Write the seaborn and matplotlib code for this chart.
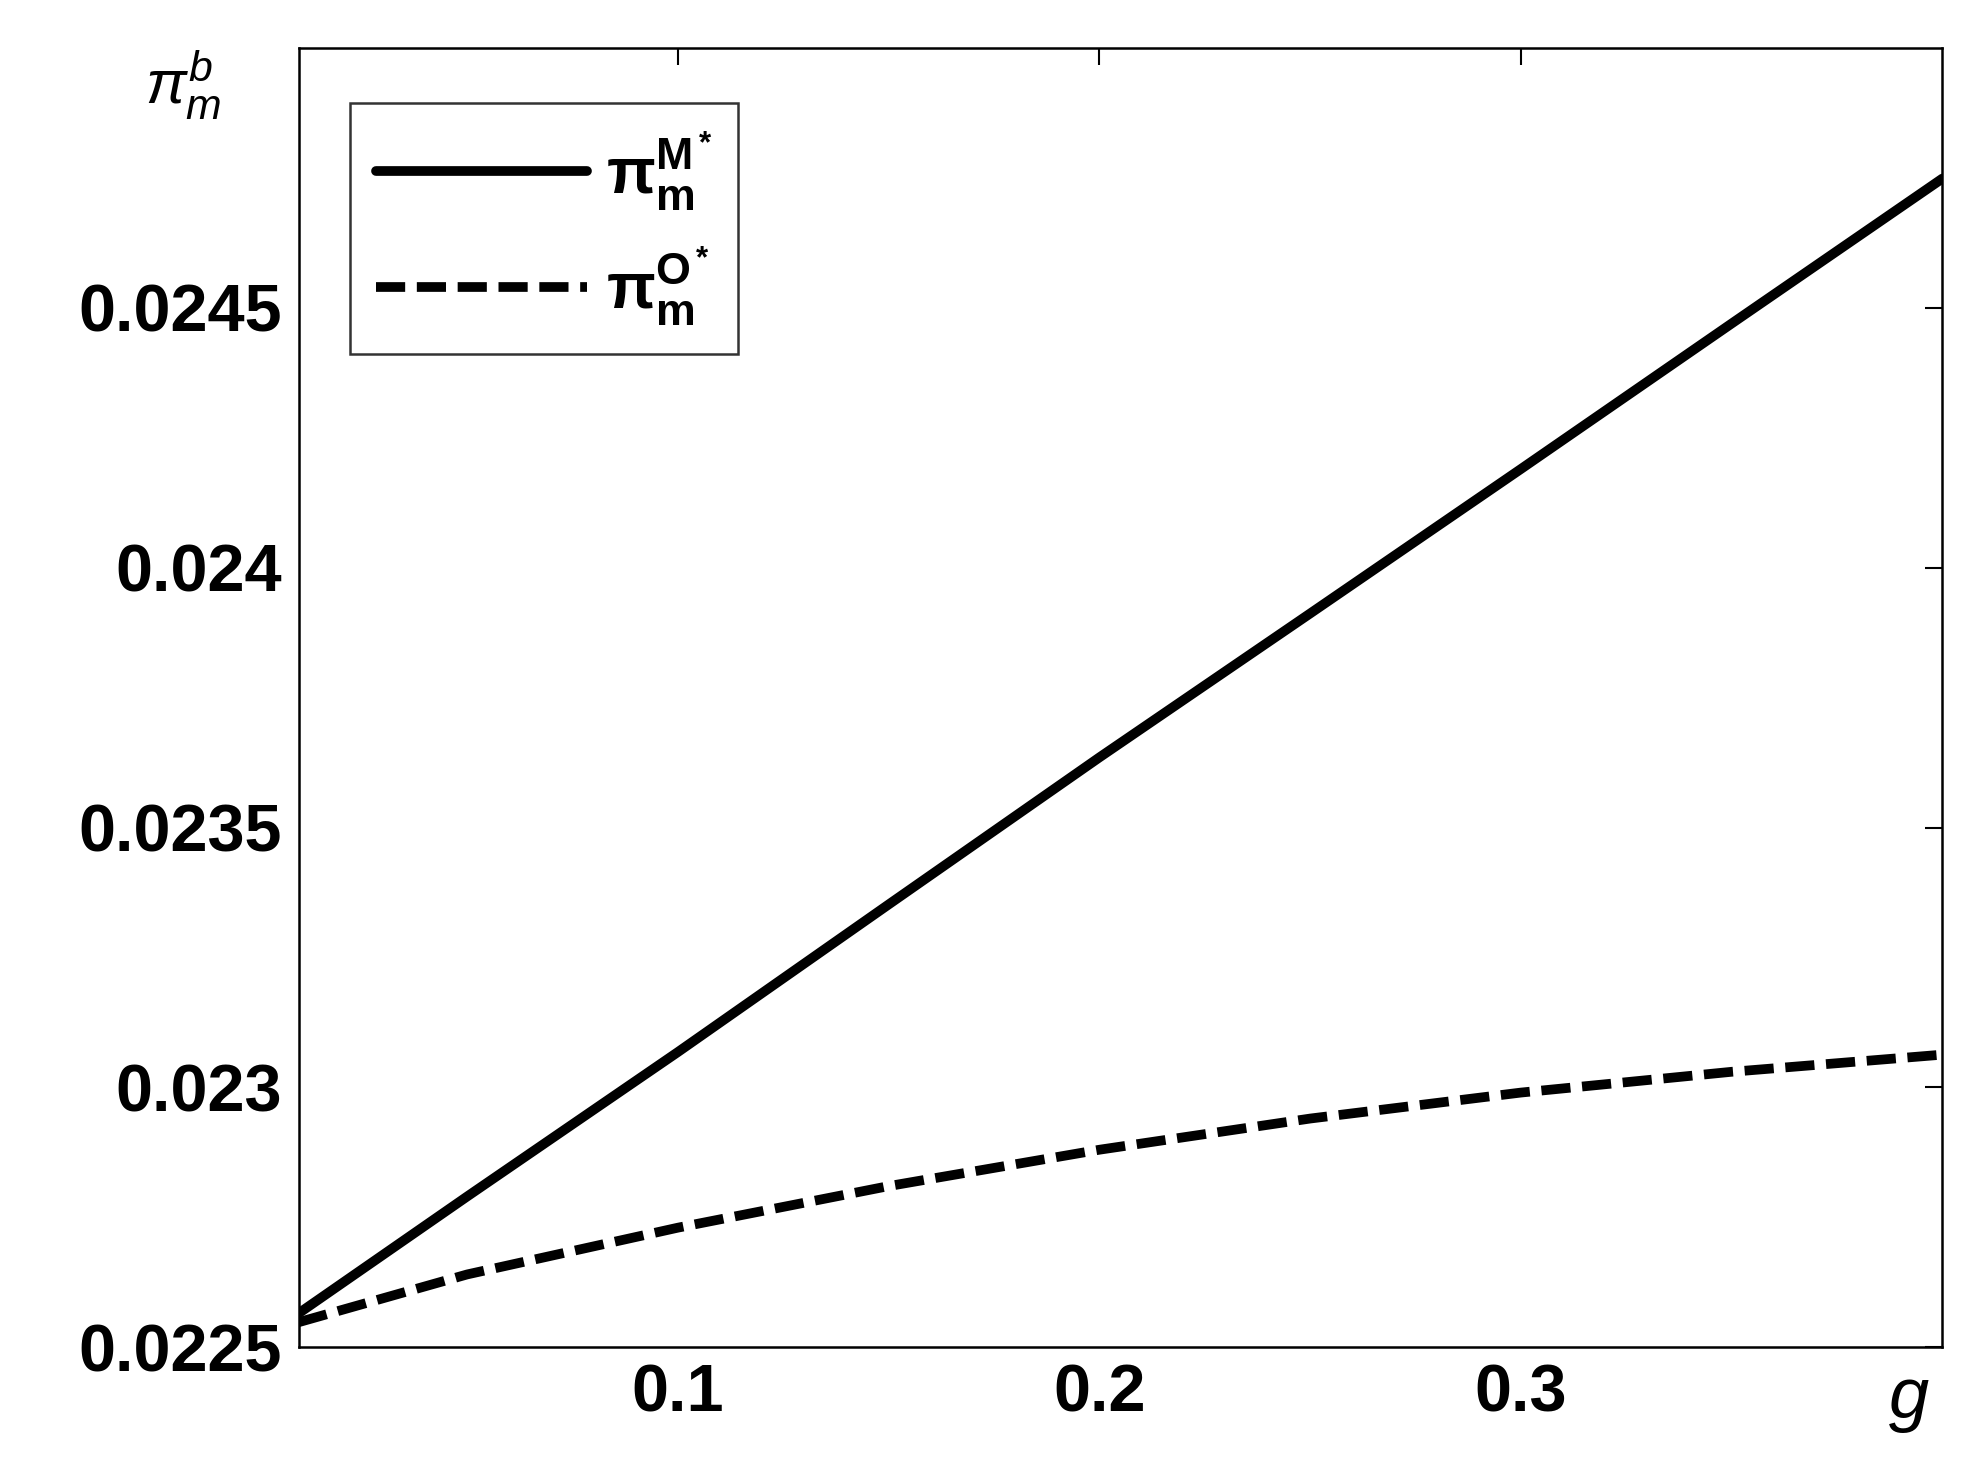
import matplotlib
matplotlib.use("Agg")
import matplotlib.pyplot as plt
import seaborn as sns
import pandas as pd

g = [0.01, 0.05, 0.1, 0.15, 0.2, 0.25, 0.3, 0.35, 0.4]
pi_M = [0.022565, 0.022790, 0.023068, 0.023352, 0.023635, 0.023912, 0.024190, 0.024470, 0.024749]
pi_O = [0.022548, 0.022640, 0.022730, 0.022810, 0.022880, 0.022940, 0.022990, 0.023030, 0.023063]
yticks = [0.0225, 0.023, 0.0235, 0.024, 0.0245]
ytick_labels = ["0.0225", "0.023", "0.0235", "0.024", "0.0245"]
xticks = [0.1, 0.2, 0.3]
xtick_labels = ["0.1", "0.2", "0.3"]

sns.set_theme(style="white")
plt.rcParams['font.family'] = ['Liberation Sans', 'DejaVu Sans']
plt.rcParams['text.color'] = 'black'
plt.rcParams['mathtext.fontset'] = 'custom'
plt.rcParams['mathtext.rm'] = 'Liberation Sans'
plt.rcParams['mathtext.it'] = 'Liberation Sans:italic'
plt.rcParams['mathtext.bf'] = 'Liberation Sans:bold'
df = pd.DataFrame({"g": g + g, "v": pi_M + pi_O,
                   "s": ["M"] * len(g) + ["O"] * len(g)})

fig = plt.figure(figsize=(19.64, 14.58), dpi=100)
ax = fig.add_axes([0.152, 0.076, 0.837, 0.891])
sns.lineplot(data=df, x="g", y="v", hue="s", style="s",
             palette={"M": "black", "O": "black"},
             dashes={"M": "", "O": (3, 1.2)}, linewidth=7, ax=ax)
ax.set_xlim(0.01, 0.4)
ax.set_ylim(0.0225, 0.025)
ax.set_xticks(xticks)
ax.set_xticklabels(xtick_labels, fontsize=48, fontweight="bold", color="black")
ax.set_yticks(yticks)
ax.set_yticklabels(ytick_labels, fontsize=48, fontweight="bold", color="black")
ax.tick_params(direction="in", length=12, width=1.5, top=True, right=True, pad=12, colors="black")
for sp in ax.spines.values():
    sp.set_color("black"); sp.set_linewidth(1.8)
ax.set_xlabel(""); ax.set_ylabel("")
ax.text(0.397, -0.015, r"$g$", transform=ax.get_xaxis_transform(), ha="right", va="top",
        fontsize=52, fontweight="bold")
ax.text(-0.07, 1.0, r"$\pi_m^b$", transform=ax.transAxes, ha="center", va="top", fontsize=44)
h, _ = ax.get_legend_handles_labels()
leg = ax.legend(h, [r"$\mathbf{\pi_m^{M^*}}$", r"$\mathbf{\pi_m^{O^*}}$"], loc="upper left",
                fontsize=46, frameon=True, fancybox=False, edgecolor="black",
                handlelength=3.3, borderpad=0.4, labelspacing=0.5, handletextpad=0.3,
                bbox_to_anchor=(0.012, 0.982))
leg.get_frame().set_linewidth(1.8)
fig.savefig("out.png", dpi=100, facecolor="white")
